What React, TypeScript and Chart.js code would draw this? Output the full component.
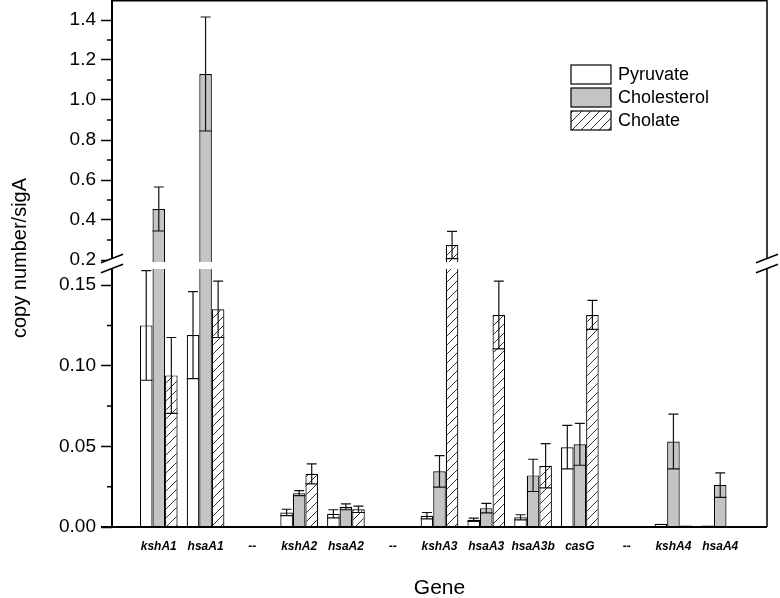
import React, { useEffect, useRef } from 'react';
import { Chart, registerables } from 'chart.js';

Chart.register(...registerables);

// ---------- data ----------
const genes = ['kshA1', 'hsaA1', '--', 'kshA2', 'hsaA2', '--', 'kshA3', 'hsaA3', 'hsaA3b', 'casG', '--', 'kshA4', 'hsaA4'];
const seriesNames = ['Pyruvate', 'Cholesterol', 'Cholate'];

const pyruvate = [0.125, 0.119, null, 0.009, 0.0082, null, 0.007, 0.0045, 0.006, 0.0495, null, 0.002, 0.001];
const pyruvateErr = [0.034, 0.027, null, 0.002, 0.0025, null, 0.002, 0.001, 0.0016, 0.0135, null, 0, 0];
const cholesterol = [0.455, 1.13, null, 0.021, 0.0125, null, 0.0345, 0.0117, 0.032, 0.0513, null, 0.053, 0.026];
const cholesterolErr = [0.11, 0.285, null, 0.0015, 0.0018, null, 0.0098, 0.003, 0.01, 0.013, null, 0.017, 0.0076];
const cholate = [0.094, 0.135, null, 0.033, 0.011, null, 0.275, 0.1315, 0.038, 0.1315, null, 0.001, 0.0005];
const cholateErr = [0.0235, 0.0175, null, 0.0062, 0.002, null, 0.068, 0.021, 0.0137, 0.009, null, 0, 0];

const lowerTicks = [0, 0.05, 0.1, 0.15];
const lowerMinor = [0.025, 0.075, 0.125];
const upperTicks = [0.2, 0.4, 0.6, 0.8, 1.0, 1.2, 1.4];
const upperMinor = [0.3, 0.5, 0.7, 0.9, 1.1, 1.3];

const LOW_MIN = 0;
const LOW_MAX = 0.1634;
const HIGH_MIN = 0.1825;
const HIGH_MAX = 1.5;
const LOW_CAP = 0.16;   // lower segment bars stop here
const HIGH_BASE = 0.19; // upper segment bars start here

const FONT = '"Liberation Sans", Arial, Helvetica, sans-serif';
const GRAY = '#c4c4c4';

const xLabels = ['', ...genes, ''];
const pad = (a: (number | null)[]) => [null, ...a, null];

function makeHatch(): CanvasPattern | string {
  const c = document.createElement('canvas');
  const s = 9;
  c.width = s;
  c.height = s;
  const g = c.getContext('2d');
  if (!g) return '#fff';
  g.fillStyle = '#fff';
  g.fillRect(0, 0, s, s);
  g.strokeStyle = '#333';
  g.lineWidth = 1;
  g.beginPath();
  g.moveTo(0, s); g.lineTo(s, 0);
  g.moveTo(-1, 1); g.lineTo(1, -1);
  g.moveTo(s - 1, s + 1); g.lineTo(s + 1, s - 1);
  g.stroke();
  const p = g.createPattern(c, 'repeat');
  return p || '#fff';
}

export default function App() {
  const ref = useRef<HTMLCanvasElement>(null);

  useEffect(() => {
    const canvas = ref.current;
    if (!canvas) return;
    const hatch = makeHatch();
    const fills: any[] = ['#ffffff', GRAY, hatch];
    const vals = [pyruvate, cholesterol, cholate];
    const errs = [pyruvateErr, cholesterolErr, cholateErr];

    const lowDatasets = vals.map((arr, si) => ({
      label: seriesNames[si],
      data: pad(arr.map((v) => (v == null ? null : Math.min(v, LOW_CAP)))),
      yAxisID: 'yLow',
      stack: 's' + si,
      backgroundColor: fills[si],
      borderColor: '#000',
      borderWidth: (ctx: any) => {
        const v = arr[ctx.dataIndex - 1];
        return v != null && v > LOW_CAP ? { top: 0, bottom: 0, left: 1.2, right: 1.2 } : 1.2;
      },
    }));
    const highDatasets = vals.map((arr, si) => ({
      label: seriesNames[si] + ' (upper)',
      data: pad(arr.map((v) => (v != null && v > LOW_CAP ? [HIGH_BASE, v] : null))) as any,
      yAxisID: 'yHigh',
      stack: 's' + si,
      backgroundColor: fills[si],
      borderColor: '#000',
      borderWidth: 1.2,
    }));

    const overlay = {
      id: 'overlay',
      afterDatasetsDraw(chart: any) {
        const ctx = chart.ctx as CanvasRenderingContext2D;
        const lo = chart.scales.yLow;
        const hi = chart.scales.yHigh;
        ctx.save();
        ctx.strokeStyle = '#111';
        ctx.lineWidth = 1.2;
        vals.forEach((arr, si) => {
          const meta = chart.getDatasetMeta(si);
          arr.forEach((v, i) => {
            const e = errs[si][i];
            if (v == null || !e) return;
            const el: any = meta.data[i + 1];
            if (!el) return;
            const sc = v > LOW_CAP ? hi : lo;
            const x = el.x;
            const w = el.width;
            const yT = sc.getPixelForValue(v + e);
            const yB = sc.getPixelForValue(v - e);
            ctx.beginPath();
            ctx.moveTo(x, yB); ctx.lineTo(x, yT);
            ctx.moveTo(x - 5, yT); ctx.lineTo(x + 5, yT);
            ctx.moveTo(x - w / 2, yB); ctx.lineTo(x + w / 2, yB);
            ctx.stroke();
          });
        });
        ctx.restore();
      },
      afterDraw(chart: any) {
        const ctx = chart.ctx as CanvasRenderingContext2D;
        const { left, right, top, bottom } = chart.chartArea;
        const lo = chart.scales.yLow;
        const hi = chart.scales.yHigh;
        ctx.save();
        ctx.strokeStyle = '#000';
        // frame
        ctx.lineWidth = 2;
        ctx.beginPath();
        ctx.moveTo(left, top); ctx.lineTo(left, bottom);
        ctx.moveTo(left - 11, bottom); ctx.lineTo(right, bottom);
        ctx.stroke();
        ctx.lineWidth = 1.5;
        ctx.beginPath();
        ctx.moveTo(left, top + 0.75); ctx.lineTo(right, top + 0.75);
        ctx.moveTo(right, top); ctx.lineTo(right, bottom);
        ctx.stroke();
        // minor ticks
        ctx.lineWidth = 1.5;
        ctx.beginPath();
        lowerMinor.forEach((v) => {
          const y = lo.getPixelForValue(v);
          ctx.moveTo(left - 5, y); ctx.lineTo(left, y);
        });
        upperMinor.forEach((v) => {
          const y = hi.getPixelForValue(v);
          ctx.moveTo(left - 5, y); ctx.lineTo(left, y);
        });
        ctx.stroke();
        // break marks
        const by = (hi.bottom + lo.top) / 2;
        [left, right].forEach((cx) => {
          ctx.fillStyle = '#fff';
          ctx.beginPath();
          ctx.moveTo(cx - 11, by - 5 + 4.2);
          ctx.lineTo(cx + 11, by - 5 - 4.2);
          ctx.lineTo(cx + 11, by + 5 - 4.2);
          ctx.lineTo(cx - 11, by + 5 + 4.2);
          ctx.closePath();
          ctx.fill();
          ctx.lineWidth = 1.6;
          ctx.beginPath();
          ctx.moveTo(cx - 11, by - 5 + 4.2); ctx.lineTo(cx + 11, by - 5 - 4.2);
          ctx.moveTo(cx - 11, by + 5 + 4.2); ctx.lineTo(cx + 11, by + 5 - 4.2);
          ctx.stroke();
        });
        // legend
        ctx.font = `18px ${FONT}`;
        ctx.textAlign = 'left';
        ctx.textBaseline = 'middle';
        seriesNames.forEach((name, si) => {
          const bx = 571;
          const byy = 65 + si * 23;
          ctx.fillStyle = fills[si];
          ctx.fillRect(bx, byy, 40, 19);
          ctx.lineWidth = 1.2;
          ctx.strokeStyle = '#000';
          ctx.strokeRect(bx, byy, 40, 19);
          ctx.fillStyle = '#000';
          ctx.fillText(name, 618, byy + 10);
        });
        // y title
        ctx.save();
        ctx.translate(20, 258);
        ctx.rotate(-Math.PI / 2);
        ctx.font = `20px ${FONT}`;
        ctx.textAlign = 'center';
        ctx.textBaseline = 'middle';
        ctx.fillStyle = '#000';
        ctx.fillText('copy number/sigA', 0, 0);
        ctx.restore();
        ctx.restore();
      },
    };

    const yCommon = (fmt: number, ticksArr: number[]) => ({
      type: 'linear' as const,
      position: 'left' as const,
      stack: 'y',
      stackWeight: 1,
      stacked: false,
      afterBuildTicks: (s: any) => {
        s.ticks = ticksArr.map((v) => ({ value: v }));
      },
      afterFit: (s: any) => {
        s.width = 112;
        s.paddingTop = 0;
        s.paddingBottom = 0;
      },
      ticks: {
        color: '#000',
        padding: 5,
        autoSkip: false,
        font: { family: FONT, size: 19 },
        callback: (v: any) => Number(v).toFixed(fmt),
      },
      grid: {
        drawOnChartArea: false,
        drawTicks: true,
        tickLength: 11,
        tickWidth: 1.5,
        tickColor: '#000',
      },
      border: { display: false },
    });

    const chart = new Chart(canvas, {
      type: 'bar',
      data: {
        labels: xLabels,
        datasets: [...lowDatasets, ...highDatasets] as any,
      },
      plugins: [overlay],
      options: {
        animation: false,
        responsive: true,
        maintainAspectRatio: false,
        layout: { padding: { left: 0, top: 0, bottom: 0, right: 13 } },
        datasets: { bar: { categoryPercentage: 0.805, barPercentage: 1 } } as any,
        plugins: {
          legend: { display: false },
          tooltip: { enabled: false },
        },
        scales: {
          x: {
            type: 'category',
            offset: false,
            grid: { display: false },
            border: { display: false },
            afterFit: (s: any) => {
              s.height = 71;
              s.paddingLeft = 0;
              s.paddingRight = 0;
            },
            ticks: {
              autoSkip: false,
              maxRotation: 0,
              minRotation: 0,
              padding: 4,
              color: '#000',
              font: { family: FONT, size: 12, weight: 'bold', style: 'italic' },
            },
            title: {
              display: true,
              text: 'Gene',
              color: '#000',
              padding: 0,
              font: { family: FONT, size: 21, lineHeight: 0.9 },
            },
          },
          yLow: { ...yCommon(2, lowerTicks), min: LOW_MIN, max: LOW_MAX } as any,
          yHigh: { ...yCommon(1, upperTicks), min: HIGH_MIN, max: HIGH_MAX } as any,
        },
      },
    });
    return () => chart.destroy();
  }, []);

  return (
    <div style={{ position: 'absolute', left: 0, top: 0, width: 780, height: 598 }}>
      <canvas ref={ref} style={{ display: 'block' }} />
    </div>
  );
}
